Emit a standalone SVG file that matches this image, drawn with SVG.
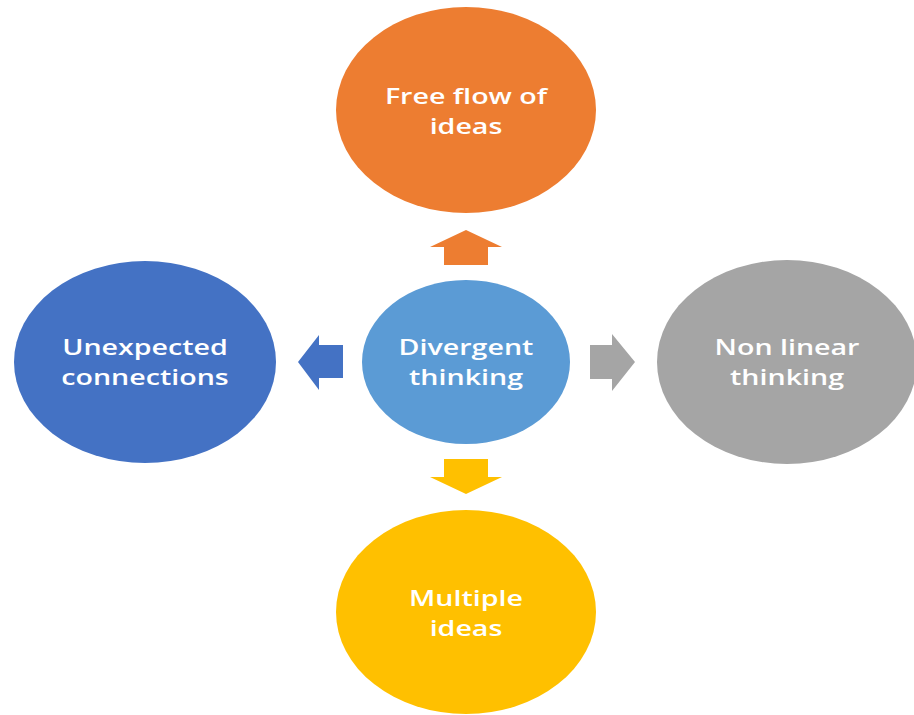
<svg xmlns="http://www.w3.org/2000/svg" width="914" height="715" viewBox="0 0 914 715">
<style>
text{font-family:"Open Sans","Liberation Sans",sans-serif;font-size:22px;font-weight:600;fill:#ffffff;text-anchor:middle}
</style>
<rect width="914" height="715" fill="#ffffff"/>
<g id="connectors">
<polygon points="466,230 502,247 488,247 488,265 444,265 444,247 430,247" fill="#ED7D31"/>
<polygon points="298,362 319,335 319,345 343,345 343,378 319,378 319,390" fill="#4472C4"/>
<polygon points="635,362 612,334 612,345 590,345 590,379 612,379 612,391" fill="#A5A5A5"/>
<polygon points="466,494 502,477 488,477 488,459 444,459 444,477 430,477" fill="#FFC000"/>
</g>
<g id="top">
<ellipse cx="466" cy="110" rx="130" ry="103" fill="#ED7D31"/>
<g transform="translate(466,0) scale(1.3,1)">
<text x="0" y="104">Free flow of</text>
<text x="0" y="134">ideas</text>
</g>
</g>
<g id="center">
<ellipse cx="466" cy="362" rx="104" ry="82" fill="#5B9BD5"/>
<g transform="translate(466,0) scale(1.3,1)">
<text x="0" y="355">Divergent</text>
<text x="0" y="385">thinking</text>
</g>
</g>
<g id="left">
<ellipse cx="145" cy="362" rx="131" ry="101" fill="#4472C4"/>
<g transform="translate(145,0) scale(1.3,1)">
<text x="0" y="355">Unexpected</text>
<text x="0" y="385">connections</text>
</g>
</g>
<g id="right">
<ellipse cx="787" cy="362" rx="130" ry="102" fill="#A5A5A5"/>
<g transform="translate(787,0) scale(1.3,1)">
<text x="0" y="355">Non linear</text>
<text x="0" y="385">thinking</text>
</g>
</g>
<g id="bottom">
<ellipse cx="466" cy="612" rx="130" ry="102" fill="#FFC000"/>
<g transform="translate(466,0) scale(1.3,1)">
<text x="0" y="606">Multiple</text>
<text x="0" y="636">ideas</text>
</g>
</g>
</svg>
